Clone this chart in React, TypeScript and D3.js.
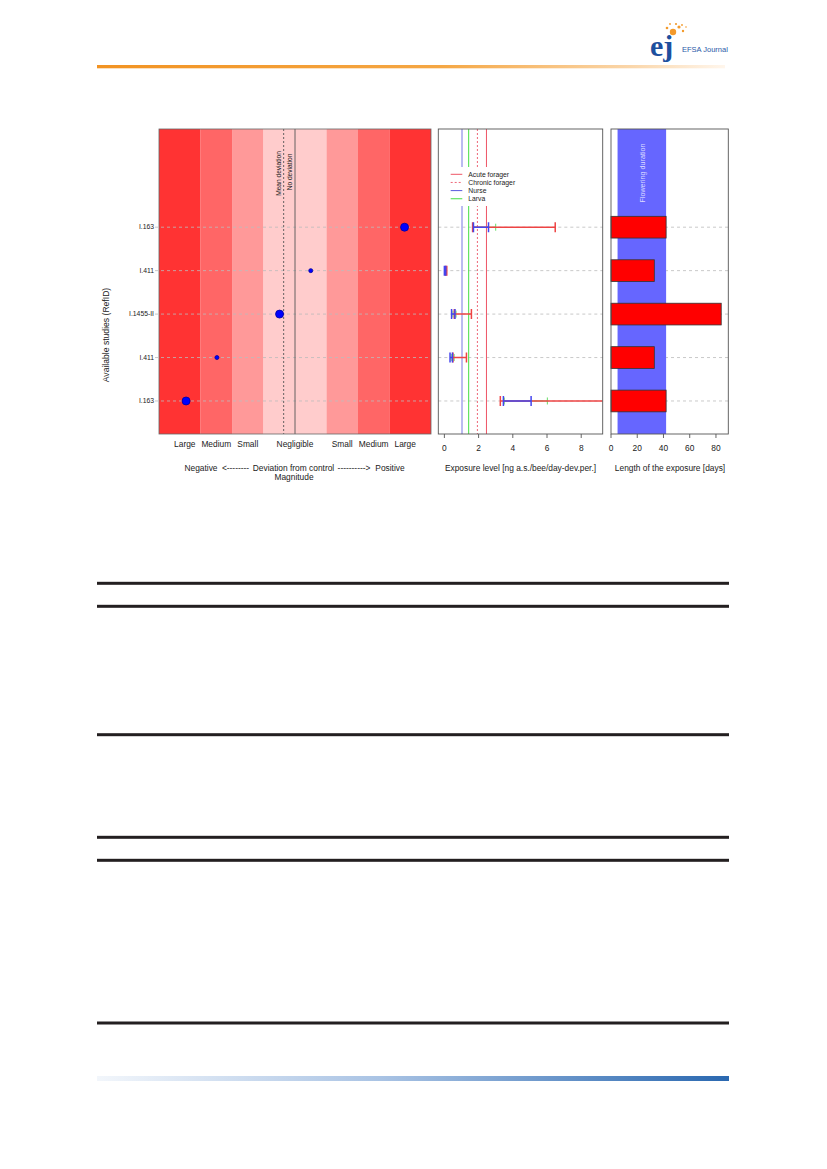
import React from "react";
import * as d3 from "d3";

// ---------- data ----------
const studies = ["I.163", "I.411", "I.1455-II", "I.411", "I.163"]; // rows bottom -> top
const rowIndex = [1, 2, 3, 4, 5];
const deviation = [-34.6, -24.8, -4.9, 5.0, 34.8];
const pointRadius = [4, 2, 4, 2, 4];
const meanDeviation = -3.6;
const bandEdges = [-43.2, -30, -20, -10, 10, 20, 30, 43.2];
const bandColors = ["#ff3333", "#ff6666", "#ff9999", "#ffcccc", "#ff9999", "#ff6666", "#ff3333"];
const magnitudeLabels = ["Large", "Medium", "Small", "Negligible", "Small", "Medium", "Large"];
const magnitudeLabelPos = [-35, -25, -15, 0, 15, 25, 35];

const acuteLow = [3.27, 0.5, 0.58, 0.06, 1.65];
const acuteHigh = [13, 1.29, 1.58, 0.14, 6.48];
const nurseLow = [3.45, 0.33, 0.42, 0.0, 1.7];
const nurseHigh = [5.07, 0.47, 0.62, 0.08, 2.58];
const larvaLow = [3.5, 0.4, 0.5, 0.03, 1.7];
const larvaHigh = [6.02, 0.57, 0.68, 0.12, 3.0];
const refNurse = 1.03;
const refLarva = 1.42;
const refChronic = 1.93;
const refAcute = 2.46;
const exposureTicks = [0, 2, 4, 6, 8];

const durationDays = [42, 33, 84, 33, 42];
const flowering = [5, 42];
const durationTicks = [0, 20, 40, 60, 80];

const tableRules = [583.3, 606.3, 734.7, 837.3, 860.3, 1023];

// ---------- layout ----------
const TOP = 129;
const BOTTOM = 434;
const FONT = "'Liberation Sans', Arial, Helvetica, sans-serif";

const y = d3.scaleLinear().domain([0.24, 7.26]).range([BOTTOM, TOP]);
const xDev = d3.scaleLinear().domain([-43.2, 43.2]).range([159, 431]);
const xExp = d3.scaleLinear().domain([-0.356, 9.256]).range([438.3, 602.7]);
const xDur = d3.scaleLinear().domain([0, 89.4]).range([611, 728.3]);

const RED = "#ee4444";
const BLUE = "#4444ee";
const GREEN = "#66dd66";

function ErrBar({ lo, hi, yy, color, cap, width, x }: any) {
  const x1 = x(lo);
  const x2 = Math.min(x(hi), xExp.range()[1]);
  return (
    <g stroke={color} strokeWidth={width}>
      <line x1={x1} x2={x2} y1={yy} y2={yy} />
      <line x1={x1} x2={x1} y1={yy - cap} y2={yy + cap} />
      {x(hi) <= xExp.range()[1] && <line x1={x2} x2={x2} y1={yy - cap} y2={yy + cap} />}
    </g>
  );
}

export default function App() {
  const grid = (x1: number, x2: number) =>
    rowIndex.map((r, i) => (
      <line key={i} x1={x1} x2={x2} y1={y(r)} y2={y(r)} stroke="#bbbbbb" strokeWidth={0.8} strokeDasharray="3,3" />
    ));

  return (
    <div style={{ position: "absolute", left: 0, top: 0 }}>
      <svg width={827} height={1169} style={{ display: "block" }} fontFamily={FONT}>
        <defs>
          <linearGradient id="hdr" x1="0" x2="1" y1="0" y2="0">
            <stop offset="0%" stopColor="#f29322" />
            <stop offset="55%" stopColor="#f5a744" />
            <stop offset="85%" stopColor="#fad6aa" />
            <stop offset="100%" stopColor="#fff6ec" />
          </linearGradient>
          <linearGradient id="ftr" x1="0" x2="1" y1="0" y2="0">
            <stop offset="0%" stopColor="#f2f6fb" />
            <stop offset="45%" stopColor="#a9c3e4" />
            <stop offset="100%" stopColor="#2a68b0" />
          </linearGradient>
          <clipPath id="midclip">
            <rect x={438.3} y={TOP} width={164.4} height={BOTTOM - TOP} />
          </clipPath>
        </defs>
        <rect width={827} height={1169} fill="#ffffff" />

        {/* header */}
        <rect x={97} y={65} width={628} height={3.3} fill="url(#hdr)" />
        <g fill="#f39a2b">
          <circle cx={673} cy={32} r={3.2} />
          <circle cx={679} cy={27} r={1.6} />
          <circle cx={667} cy={28} r={1.3} />
          <circle cx={683} cy={31} r={1.2} />
          <circle cx={676} cy={24} r={1.1} />
          <circle cx={670} cy={24} r={0.9} />
          <circle cx={682} cy={25} r={0.9} />
          <circle cx={686} cy={27} r={0.8} />
        </g>
        <text x={650} y={56} fontFamily="'Liberation Serif', serif" fontWeight="bold" fontSize={30} fill="#1d4f9e">
          ej
        </text>
        <text x={682} y={51.5} fontSize={7.5} fill="#2a5aa8">
          EFSA Journal
        </text>

        {/* ---------- left panel ---------- */}
        {bandColors.map((c, i) => (
          <rect
            key={i}
            x={xDev(bandEdges[i])}
            y={TOP}
            width={xDev(bandEdges[i + 1]) - xDev(bandEdges[i])}
            height={BOTTOM - TOP}
            fill={c}
          />
        ))}
        {grid(155, 431)}
        <line x1={xDev(0)} x2={xDev(0)} y1={TOP} y2={BOTTOM} stroke="#555555" strokeWidth={0.9} />
        <line
          x1={xDev(meanDeviation)}
          x2={xDev(meanDeviation)}
          y1={TOP}
          y2={BOTTOM}
          stroke="#555555"
          strokeWidth={0.9}
          strokeDasharray="2,2"
        />
        <text
          transform={`translate(${xDev(meanDeviation) - 5.3},173.5) rotate(-90)`}
          textAnchor="middle"
          dominantBaseline="central"
          fontSize={6.6}
          fill="#222"
        >
          Mean deviation
        </text>
        <text
          transform={`translate(${xDev(0) - 5.5},172) rotate(-90)`}
          textAnchor="middle"
          dominantBaseline="central"
          fontSize={6.6}
          fill="#222"
        >
          No deviation
        </text>
        {rowIndex.map((r, i) => (
          <circle key={i} cx={xDev(deviation[i])} cy={y(r)} r={pointRadius[i]} fill="#0000ff" stroke="#0000a0" strokeWidth={0.8} />
        ))}
        <rect x={159} y={TOP} width={272} height={BOTTOM - TOP} fill="none" stroke="#666666" strokeWidth={0.8} />
        {rowIndex.map((r, i) => (
          <text key={i} x={154} y={y(r) + 2.3} textAnchor="end" fontSize={6.8} fill="#222">
            {studies[i]}
          </text>
        ))}
        <text transform="translate(109,335) rotate(-90)" textAnchor="middle" fontSize={8.6} fill="#222">
          Available studies (RefID)
        </text>
        {magnitudeLabels.map((m, i) => (
          <text key={i} x={xDev(magnitudeLabelPos[i])} y={446.7} textAnchor="middle" fontSize={8.4} fill="#222">
            {m}
          </text>
        ))}
        <g fontSize={8.4} fill="#222" textAnchor="middle">
          <text x={201} y={470.5}>Negative</text>
          <text x={235.5} y={470.5}>{"<--------"}</text>
          <text x={293.5} y={470.5}>Deviation from control</text>
          <text x={354} y={470.5}>{"---------->"}</text>
          <text x={390} y={470.5}>Positive</text>
          <text x={294} y={479.5}>Magnitude</text>
        </g>

        {/* ---------- middle panel ---------- */}
        {grid(438.3, 602.7)}
        <g clipPath="url(#midclip)">
          <line x1={xExp(refNurse)} x2={xExp(refNurse)} y1={TOP} y2={BOTTOM} stroke="#aaaaee" strokeWidth={1.6} />
          <line x1={xExp(refLarva)} x2={xExp(refLarva)} y1={TOP} y2={BOTTOM} stroke="#44dd44" strokeWidth={1} />
          <line
            x1={xExp(refChronic)}
            x2={xExp(refChronic)}
            y1={TOP}
            y2={BOTTOM}
            stroke="#ee6677"
            strokeWidth={1}
            strokeDasharray="2,2"
          />
          <line x1={xExp(refAcute)} x2={xExp(refAcute)} y1={TOP} y2={BOTTOM} stroke="#ee5566" strokeWidth={1} />
          {rowIndex.map((r, i) => (
            <g key={i}>
              <ErrBar lo={larvaLow[i]} hi={larvaHigh[i]} yy={y(r)} color={GREEN} cap={3.5} width={1} x={xExp} />
              <ErrBar lo={acuteLow[i]} hi={acuteHigh[i]} yy={y(r)} color={RED} cap={5} width={1.5} x={xExp} />
              <ErrBar lo={nurseLow[i]} hi={nurseHigh[i]} yy={y(r)} color={BLUE} cap={5} width={1.5} x={xExp} />
            </g>
          ))}
        </g>
        {/* legend */}
        <rect x={446} y={167} width={70} height={39} fill="#ffffff" />
        {[
          { label: "Acute forager", color: "#ee5566", dash: "" },
          { label: "Chronic forager", color: "#ee6677", dash: "2,2" },
          { label: "Nurse", color: "#5a5add", dash: "" },
          { label: "Larva", color: "#44dd44", dash: "" },
        ].map((l, i) => {
          const ly = 174.3 + i * 8.15;
          return (
            <g key={i}>
              <line x1={450.7} x2={462.3} y1={ly} y2={ly} stroke={l.color} strokeWidth={1} strokeDasharray={l.dash} />
              <text x={468.3} y={ly + 2.4} fontSize={6.8} fill="#222">
                {l.label}
              </text>
            </g>
          );
        })}
        <rect x={438.3} y={TOP} width={164.4} height={BOTTOM - TOP} fill="none" stroke="#555555" strokeWidth={0.9} />
        {exposureTicks.map((t) => (
          <g key={t}>
            <line x1={xExp(t)} x2={xExp(t)} y1={BOTTOM} y2={BOTTOM + 4} stroke="#555555" strokeWidth={0.9} />
            <text x={xExp(t)} y={451} textAnchor="middle" fontSize={8.4} fill="#222">
              {t}
            </text>
          </g>
        ))}
        <text x={520.5} y={470.5} textAnchor="middle" fontSize={8.4} fill="#222">
          Exposure level [ng a.s./bee/day-dev.per.]
        </text>

        {/* ---------- right panel ---------- */}
        {grid(611, 728.3)}
        <rect
          x={xDur(flowering[0])}
          y={TOP}
          width={xDur(flowering[1]) - xDur(flowering[0])}
          height={BOTTOM - TOP}
          fill="#6666ff"
        />
        <text
          transform={`translate(${(xDur(flowering[0]) + xDur(flowering[1])) / 2 + 0.5},173) rotate(-90)`}
          textAnchor="middle"
          dominantBaseline="central"
          fontSize={7.2}
          fill="#dcdcff"
        >
          Flowering duration
        </text>
        {rowIndex.map((r, i) => (
          <rect
            key={i}
            x={xDur(0)}
            y={y(r + 0.25)}
            width={xDur(durationDays[i]) - xDur(0)}
            height={y(r - 0.25) - y(r + 0.25)}
            fill="#ff0000"
            stroke="#333333"
            strokeWidth={0.8}
          />
        ))}
        <rect x={611} y={TOP} width={117.3} height={BOTTOM - TOP} fill="none" stroke="#555555" strokeWidth={0.9} />
        {durationTicks.map((t) => (
          <g key={t}>
            <line x1={xDur(t)} x2={xDur(t)} y1={BOTTOM} y2={BOTTOM + 4} stroke="#555555" strokeWidth={0.9} />
            <text x={xDur(t)} y={451} textAnchor="middle" fontSize={8.4} fill="#222">
              {t}
            </text>
          </g>
        ))}
        <text x={670} y={470.5} textAnchor="middle" fontSize={8.4} fill="#222">
          Length of the exposure [days]
        </text>

        {/* table rules */}
        {tableRules.map((ty, i) => (
          <rect key={i} x={97} y={ty - 1.5} width={632} height={3} fill="#231f20" />
        ))}

        {/* footer */}
        <rect x={97} y={1076} width={632} height={5} fill="url(#ftr)" />
      </svg>
    </div>
  );
}
